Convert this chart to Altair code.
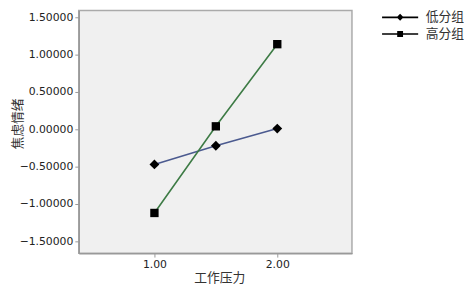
import altair as alt
import pandas as pd

groups = ["低分组", "高分组"]
x_values = [1.0, 1.5, 2.0]
low_values = [-0.47, -0.22, 0.01]
high_values = [-1.12, 0.04, 1.14]
y_ticks = [-1.5, -1.0, -0.5, 0.0, 0.5, 1.0, 1.5]
x_ticks = [1.0, 2.0]
line_colors = ["#4b5a8f", "#3d7b45"]

rows = []
for g, vals in zip(groups, [low_values, high_values]):
    for xv, yv in zip(x_values, vals):
        rows.append({"group": g, "series": g, "x": xv, "y": yv})
df = pd.DataFrame(rows)

# marker shapes in the plot
diamond = "M0,-0.4L0.4,0L0,0.4L-0.4,0Z"
square = "M-0.34,-0.34L0.34,-0.34L0.34,0.34L-0.34,0.34Z"
# legend symbols: marker with a short line through it
bar = "M-2.1,-0.1L2.1,-0.1L2.1,0.1L-2.1,0.1Z"
legend_diamond = bar + diamond
legend_square = bar + square

x_enc = alt.X(
    "x:Q",
    scale=alt.Scale(domain=[0.384, 2.608], nice=False, zero=False),
    axis=alt.Axis(
        values=x_ticks, format=".2f", title="工作压力", grid=False,
        tickSize=4, labelPadding=2, titleX=143, titleY=25,
        titleBaseline="middle", titleAlign="center",
    ),
)
y_enc = alt.Y(
    "y:Q",
    scale=alt.Scale(domain=[-1.658, 1.592], nice=False, zero=False),
    axis=alt.Axis(
        values=y_ticks, format=".5f", title="焦虑情绪", grid=False,
        tickSize=4, labelPadding=2, titleX=-62, titleY=115,
        titleAngle=-90, titleBaseline="middle", titleAlign="center",
    ),
)

lines = alt.Chart(df).mark_line(strokeWidth=1.6).encode(
    x=x_enc,
    y=y_enc,
    color=alt.Color("series:N", scale=alt.Scale(range=line_colors), legend=None),
)

points = alt.Chart(df).mark_point(filled=True, size=625, opacity=1, color="black").encode(
    x=x_enc,
    y=y_enc,
    shape=alt.Shape("group:N", scale=alt.Scale(range=[diamond, square]), legend=None),
)

legend_layer = alt.Chart(df).transform_filter("false").mark_point(
    filled=True, opacity=1, color="black"
).encode(
    x=x_enc,
    y=y_enc,
    shape=alt.Shape(
        "group:N",
        scale=alt.Scale(domain=groups, range=[legend_diamond, legend_square]),
        legend=alt.Legend(
            title=None, orient="none", legendX=318, legendY=-2,
            symbolSize=306, labelOffset=17, rowPadding=1, padding=0,
            labelFont="Noto Sans CJK SC", labelFontSize=13, labelColor="#333",
            symbolFillColor="black", symbolStrokeWidth=0, symbolOpacity=1,
        ),
    ),
)

chart = (lines + points + legend_layer).resolve_scale(shape="independent").properties(
    width=278, height=247,
    autosize=alt.AutoSizeParams(type="none"),
    padding={"left": 72, "top": 0, "right": 114, "bottom": 32},
    background="white",
).configure_view(
    fill="#f0f0f0", stroke="#aaaaaa", strokeWidth=1.5,
).configure_axis(
    labelFont="DejaVu Sans", labelFontSize=11, labelColor="#222",
    titleFont="Noto Sans CJK SC", titleFontSize=13, titleFontWeight="normal", titleColor="#333",
    domainColor="#999999", tickColor="#999999", domainWidth=1.5,
)

chart.save("out.html", embed_options={"renderer": "svg", "actions": False})
